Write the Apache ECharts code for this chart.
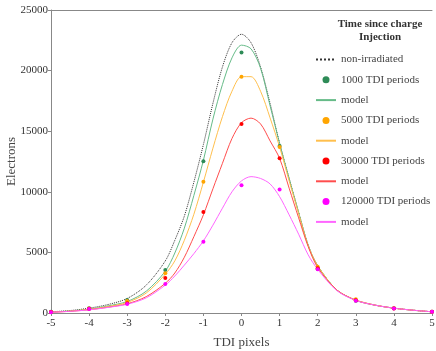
<!DOCTYPE html>
<html>
<head>
<meta charset="utf-8">
<script src="https://cdn.jsdelivr.net/npm/echarts@6/dist/echarts.min.js"></script>
<style>
html, body { margin: 0; padding: 0; background: #fff; }
#chart { width: 436px; height: 351px; }
</style>
</head>
<body>
<div id="chart"></div>
<script>
// x positions (TDI pixels)
var xModel = [-5, -4.5, -4, -3.5, -3, -2.5, -2, -1.75, -1.5, -1.25, -1, -0.75, -0.5, -0.25, 0,
              0.25, 0.5, 0.75, 1, 1.25, 1.5, 1.75, 2, 2.5, 3, 3.5, 4, 4.5, 5];
var xData = [-5, -4, -3, -2, -1, 0, 1, 2, 3, 4, 5];

// model curves
var nonIrradiated = [100, 200, 400, 700, 1200, 2300, 4300, 6000, 8000, 10800, 13900, 17300, 20300, 22300, 23000,
                     22300, 20300, 17300, 14000, 11100, 8300, 5600, 3900, 1900, 1050, 650, 400, 230, 100];
var model1000 = [80, 170, 320, 590, 950, 1800, 3450, 4950, 7000, 9700, 12600, 16000, 18850, 21050, 22100,
                 21800, 20200, 17100, 14000, 11100, 8300, 5600, 3900, 1900, 1050, 650, 400, 230, 100];
var model5000 = [70, 160, 300, 540, 870, 1650, 3200, 4300, 6000, 8150, 10800, 13600, 16200, 18300, 19500,
                 19500, 18300, 16100, 13700, 10900, 8200, 5550, 3900, 1900, 1080, 660, 400, 230, 100];
var model30000 = [60, 140, 270, 480, 760, 1350, 2450, 3300, 4600, 6300, 8100, 10250, 12350, 14400, 15700,
                  16080, 15600, 14200, 12760, 10300, 7850, 5480, 3750, 1900, 1050, 650, 400, 230, 100];
var model120000 = [60, 140, 260, 460, 720, 1250, 2300, 3050, 3950, 4900, 5950, 7250, 8650, 10000, 10900,
                   11250, 11100, 10650, 9600, 8100, 6500, 4800, 3600, 1850, 1040, 650, 400, 230, 100];

// measured points
var data1000 = [100, 390, 1070, 3550, 12520, 21500, 13780, 3630, 1010, 390, 110];
var data5000 = [90, 370, 1000, 3270, 10830, 19500, 13700, 3820, 1130, 390, 100];
var data30000 = [80, 350, 800, 2890, 8330, 15590, 12760, 3700, 1050, 380, 100];
var data120000 = [70, 330, 750, 2390, 5880, 10540, 10200, 3600, 1020, 380, 100];

function pairs(xs, ys) {
    return xs.map(function (x, i) { return [x, ys[i]]; });
}

var font = 'Liberation Serif';

function modelLine(name, ys, color, type) {
    return {
        name: name,
        type: 'line',
        smooth: 0.3,
        symbol: 'none',
        lineStyle: { color: color, width: 1, type: type || 'solid' },
        itemStyle: { color: color },
        data: pairs(xModel, ys),
        z: 2
    };
}

function dots(name, ys, color) {
    return {
        name: name,
        type: 'scatter',
        symbolSize: 4,
        itemStyle: { color: color, opacity: 1 },
        data: pairs(xData, ys),
        z: 3
    };
}

// legend entry for a line: no marker in the middle
function lineKey(name) {
    return { name: name, itemStyle: { opacity: 0 } };
}

var myChart = echarts.init(document.getElementById('chart'));

option = {
    animation: false,
    title: {
        text: 'Time since charge\nInjection',
        left: 375,
        top: 13,
        textAlign: 'center',
        textStyle: { fontFamily: font, fontSize: 11, fontWeight: 'bold', color: '#333', lineHeight: 13 }
    },
    legend: {
        orient: 'vertical',
        left: 310,
        top: 49,
        itemWidth: 20,
        itemHeight: 7,
        itemGap: 9.3,
        textStyle: { fontFamily: font, fontSize: 11, color: '#444' },
        formatter: function (name) { return name.split('#')[0]; },
        data: [
            lineKey('non-irradiated'),
            { name: '1000 TDI periods', icon: 'circle' },
            lineKey('model#1'),
            { name: '5000 TDI periods', icon: 'circle' },
            lineKey('model#2'),
            { name: '30000 TDI periods', icon: 'circle' },
            lineKey('model#3'),
            { name: '120000 TDI periods', icon: 'circle' },
            lineKey('model#4')
        ]
    },
    grid: {
        left: 51,
        right: 4,
        top: 10,
        bottom: 38,
        outerBoundsMode: 'none'
    },
    xAxis: [{
        type: 'value',
        min: -5,
        max: 5,
        interval: 1,
        name: 'TDI pixels',
        nameLocation: 'middle',
        nameGap: 23,
        nameTextStyle: { fontFamily: font, fontSize: 13, color: '#444' },
        axisLine: { onZero: false, lineStyle: { color: '#888' } },
        axisTick: { length: 3, lineStyle: { color: '#888' } },
        axisLabel: { fontFamily: font, fontSize: 11, color: '#333', margin: 5 },
        splitLine: { show: false }
    }, {
        type: 'value',
        position: 'top',
        min: -5,
        max: 5,
        axisLine: { show: true, onZero: false, lineStyle: { color: '#888' } },
        axisTick: { show: false },
        axisLabel: { show: false },
        splitLine: { show: false }
    }],
    yAxis: {
        type: 'value',
        min: 0,
        max: 25000,
        interval: 5000,
        name: 'Electrons',
        nameLocation: 'middle',
        nameGap: 33,
        nameMoveOverlap: false,
        nameTextStyle: { fontFamily: font, fontSize: 13, color: '#444' },
        axisLine: { show: true, onZero: false, lineStyle: { color: '#888' } },
        axisTick: { show: true, length: 3, lineStyle: { color: '#888' } },
        axisLabel: {
            fontFamily: font, fontSize: 11, color: '#333', margin: 3,
            formatter: function (v) { return String(v); }
        },
        splitLine: { show: false }
    },
    series: [
        modelLine('non-irradiated', nonIrradiated, '#333333', 'dotted'),
        dots('1000 TDI periods', data1000, '#2e8b57'),
        modelLine('model#1', model1000, '#66bb88'),
        dots('5000 TDI periods', data5000, '#ffa500'),
        modelLine('model#2', model5000, '#ffbf4d'),
        dots('30000 TDI periods', data30000, '#ff0000'),
        modelLine('model#3', model30000, '#ff4d4d'),
        dots('120000 TDI periods', data120000, '#ff00ff'),
        modelLine('model#4', model120000, '#ff66ff')
    ]
};

myChart.setOption(option);
</script>
</body>
</html>
